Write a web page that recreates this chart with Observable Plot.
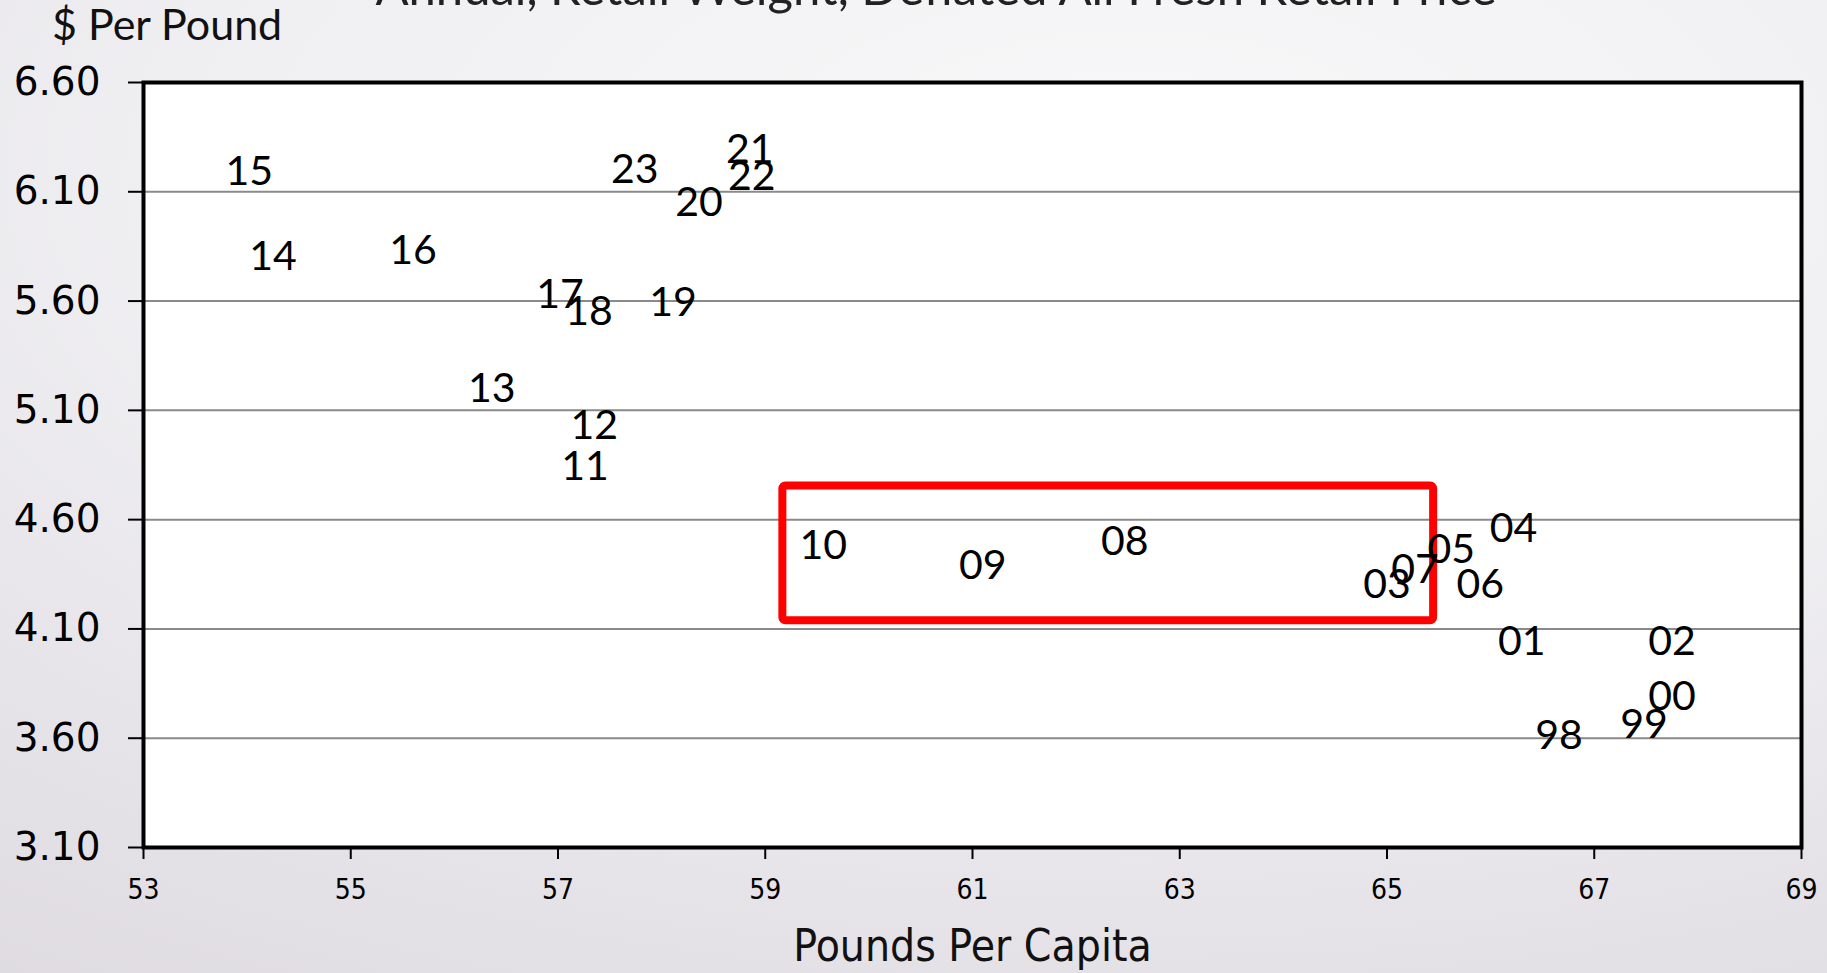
<!DOCTYPE html>
<html>
<head>
<meta charset="utf-8">
<script src="https://cdn.jsdelivr.net/npm/d3@7"></script>
<script src="https://cdn.jsdelivr.net/npm/@observablehq/plot@0.6"></script>
<style>
  html, body { margin: 0; padding: 0; width: 1827px; height: 973px; overflow: hidden; }
  body {
    background: radial-gradient(ellipse 120% 110% at 62% 18%, #f8f8f9 0%, #efeef1 45%, #dbd7de 100%);
    position: relative;
  }
  #title {
    position: absolute; left: 0; width: 1872px; text-align: center; top: -38px;
    font-family: Lato, "Open Sans", sans-serif; font-size: 49px; line-height: 1; color: #222;
    white-space: nowrap;
  }
  #ylabel {
    position: absolute; left: 52px; top: 2px;
    font-family: Lato, "Open Sans", sans-serif; font-size: 43px; line-height: 1; color: #111;
  }
  #chart { position: absolute; left: 0; top: 0; }
</style>
</head>
<body>
<div id="title">Annual, Retail Weight, Deflated All Fresh Retail Price</div>
<div id="ylabel">$ Per Pound</div>
<div id="chart"></div>
<script>
// Year labels, pounds per capita (x), deflated $ per pound (y)
const years  = ["98","99","00","01","02","03","04","05","06","07","08","09","10","11","12","13","14","15","16","17","18","19","20","21","22","23"];
const pounds = [66.66,67.48,67.75,66.30,67.75,65.00,66.22,65.62,65.90,65.27,62.47,61.10,59.56,57.26,57.35,56.36,54.25,54.02,55.60,57.02,57.30,58.11,58.36,58.85,58.87,57.74];
const prices = [3.61,3.66,3.79,4.04,4.04,4.30,4.56,4.46,4.30,4.37,4.50,4.39,4.48,4.84,5.03,5.20,5.80,6.19,5.83,5.63,5.55,5.59,6.05,6.29,6.17,6.20];

const xTicks = [53,55,57,59,61,63,65,67,69];
const yTicks = [3.10,3.60,4.10,4.60,5.10,5.60,6.10,6.60];

// Highlight box (pounds from/to, price from/to)
const boxX = [59.17, 65.45];
const boxY = [4.137, 4.754];

const data = years.map((t, i) => ({year: t, x: pounds[i], y: prices[i]}));
const box = [{x1: boxX[0], x2: boxX[1], y1: boxY[0], y2: boxY[1]}];

const chart = Plot.plot({
  width: 1827,
  height: 973,
  marginLeft: 143,
  marginRight: 26,
  marginTop: 82,
  marginBottom: 126,
  style: {background: "transparent", color: "#000"},
  x: {domain: [53, 69], ticks: xTicks},
  y: {domain: [3.10, 6.60], ticks: yTicks},
  marks: [
    Plot.frame({fill: "white", stroke: "none"}),
    Plot.ruleY(yTicks.slice(1, -1), {stroke: "#8a8a8a", strokeWidth: 2}),
    Plot.axisY({
      ticks: yTicks, tickFormat: d3.format(".2f"), tickSize: 15, tickPadding: 28,
      label: null, fontSize: 39, fontFamily: "DejaVu Sans, sans-serif", strokeWidth: 2
    }),
    Plot.axisX({
      ticks: xTicks, tickFormat: d => String(d), tickSize: 12, tickPadding: 20,
      label: null, fontSize: 28, fontFamily: "Liberation Sans Narrow, DejaVu Sans Condensed, sans-serif", strokeWidth: 2
    }),
    Plot.text(["Pounds Per Capita"], {
      frameAnchor: "bottom", dy: 113, fontSize: 44,
      fontFamily: "Liberation Sans Narrow, DejaVu Sans Condensed, sans-serif", fill: "#111"
    }),
    Plot.rect(box, {x1: "x1", x2: "x2", y1: "y1", y2: "y2", fill: "none", stroke: "#ff0000", strokeWidth: 8, rx: 3}),
    Plot.text(data, {x: "x", y: "y", text: "year", fontSize: 41, fontFamily: "Lato, Open Sans, sans-serif", fill: "#000"}),
    Plot.frame({stroke: "#000", strokeWidth: 4})
  ]
});
document.getElementById("chart").append(chart);
</script>
</body>
</html>
